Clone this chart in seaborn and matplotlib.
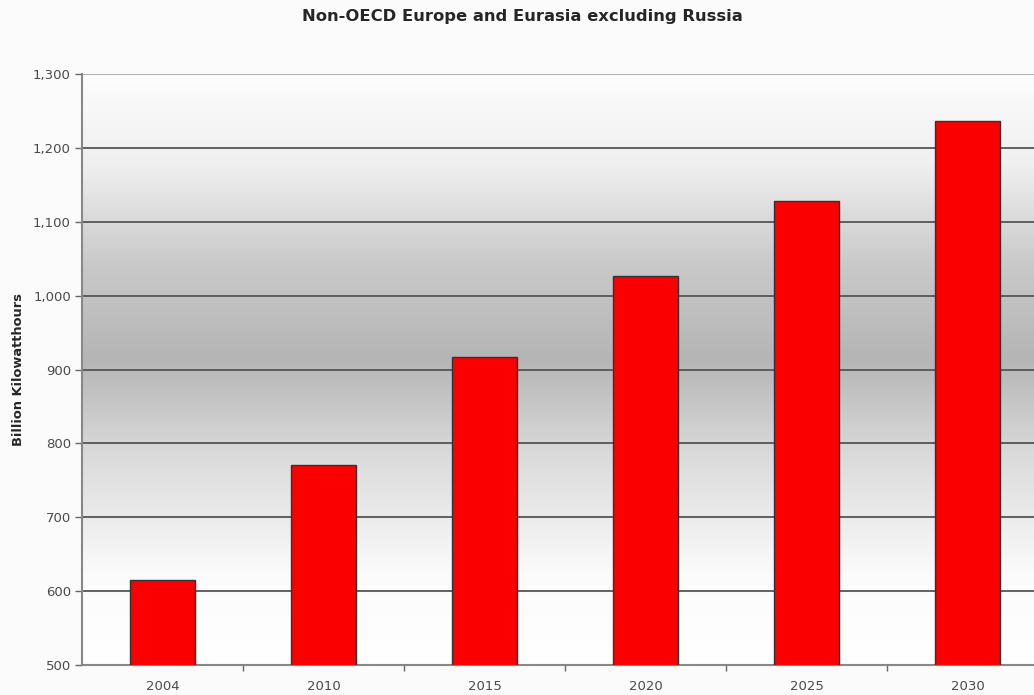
import numpy as np
import pandas as pd
import matplotlib
matplotlib.use("Agg")
import matplotlib.pyplot as plt
from matplotlib.colors import LinearSegmentedColormap
from matplotlib.ticker import FuncFormatter, FixedLocator
import seaborn as sns

years = ["2004", "2010", "2015", "2020", "2025", "2030"]
values = [615, 771, 917, 1026, 1128, 1237]
title = "Non-OECD Europe and Eurasia excluding Russia"
ylabel = "Billion Kilowatthours"

sns.set_style("white")
plt.rcParams['font.family'] = ['DejaVu Sans']

fig = plt.figure(figsize=(10.34, 6.95), dpi=100)
fig.patch.set_facecolor("#fafbfa")
ax = fig.add_axes([82/1034, 30/695, (1048-82)/1034, (665-74)/695])

# gradient background (axes fraction 0 = bottom)
stops = [(0.0, 1.0), (0.15, 0.985), (0.35, 0.86), (0.52, 0.71), (0.68, 0.79), (0.85, 0.94), (1.0, 0.99)]
cmap = LinearSegmentedColormap.from_list("bg", [(p, (g, g, g)) for p, g in stops])
grad = np.linspace(1, 0, 256).reshape(-1, 1)
ax.imshow(grad, extent=[0, 1, 0, 1], transform=ax.transAxes, aspect="auto",
          cmap=cmap, vmin=0, vmax=1, zorder=0)

df = pd.DataFrame({"year": years, "value": values})
sns.barplot(data=df, x="year", y="value", color="#fa0000", saturation=1,
            edgecolor="#333333", linewidth=1.0, width=0.4, ax=ax, zorder=3)

ax.set_xlim(-0.5, len(years) - 0.5)
ax.set_ylim(500, 1300)
yt = np.arange(500, 1301, 100)
ax.set_yticks(yt)
ax.yaxis.set_major_formatter(FuncFormatter(lambda v, p: f"{int(v):,}"))
for v in yt[1:-1]:
    ax.axhline(v, color="#555555", lw=1.3, zorder=1)
ax.axhline(1300, color="#aaaaaa", lw=1.3, zorder=1)

for s in ["top", "right"]:
    ax.spines[s].set_visible(False)
ax.spines["left"].set_color("#888888")
ax.spines["left"].set_linewidth(1.5)
ax.spines["bottom"].set_color("#888888")
ax.spines["bottom"].set_linewidth(1.5)

ax.tick_params(axis="y", which="major", left=True, length=5, width=1, color="#666666",
               labelsize=9.5, labelcolor="#4a4a4a", pad=3)
ax.tick_params(axis="x", which="major", bottom=False, labelsize=9.5, labelcolor="#4a4a4a", pad=7)
ax.xaxis.set_minor_locator(FixedLocator(np.arange(0.5, len(years) - 0.5, 1)))
ax.tick_params(axis="x", which="minor", bottom=True, length=4, width=1, color="#666666")

ax.set_xlabel("")
ax.set_ylabel(ylabel, fontsize=9.4, fontweight="bold", labelpad=6)
fig.text(522/1034, 1 - 16/695, title, ha="center", va="center", fontsize=11.8, fontweight="bold")

fig.savefig("out.png", dpi=100, facecolor=fig.get_facecolor())
